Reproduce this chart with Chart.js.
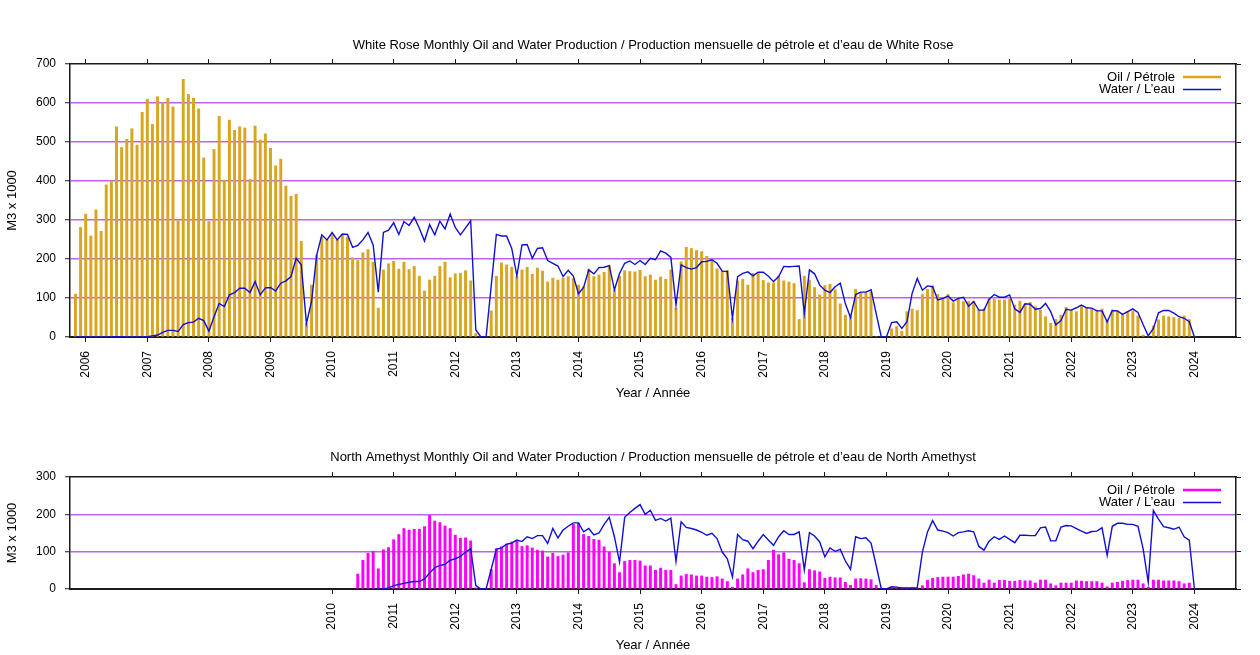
<!DOCTYPE html>
<html>
<head>
<meta charset="utf-8">
<script src="https://cdn.jsdelivr.net/npm/chart.js@4.4.1/dist/chart.umd.min.js"></script>
<style>
  html, body { margin: 0; padding: 0; background: #fff; }
  .wrap { position: absolute; left: 0; width: 1260px; }
  #topWrap { top: 0; height: 410px; }
  #bottomWrap { top: 410px; height: 245px; }
</style>
</head>
<body>
<div class="wrap" id="topWrap"><canvas id="whiteRose"></canvas></div>
<div class="wrap" id="bottomWrap"><canvas id="northAmethyst"></canvas></div>
<script>
// monthly values, M3 x 1000, one row per year
// White Rose: Nov 2005 .. Jan 2024
const wrStart = 2005 + 10 / 12;
const wrOil = [
  110, 281,
  315, 259, 326, 271, 390, 400, 539, 486, 507, 534, 492, 576,
  610, 545, 616, 601, 612, 590, 298, 661, 622, 612, 585, 459,
  296, 481, 566, 402, 556, 530, 539, 536, 404, 541, 505, 521,
  484, 439, 456, 387, 361, 366, 245, 35, 133, 210, 256, 249,
  262, 249, 262, 256, 203, 196, 216, 224, 192, 74, 172, 188,
  194, 174, 192, 173, 181, 156, 118, 146, 156, 181, 192, 152,
  162, 163, 170, 144, 9, 0, 0, 67, 156, 190, 185, 179,
  155, 172, 179, 161, 177, 169, 141, 151, 146, 151, 155, 150,
  133, 129, 174, 155, 159, 166, 183, 121, 156, 170, 168, 167,
  171, 155, 159, 146, 154, 148, 172, 74, 193, 230, 227, 222,
  219, 207, 198, 175, 169, 171, 48, 144, 148, 133, 163, 163,
  145, 139, 139, 156, 144, 141, 137, 45, 156, 146, 127, 108,
  132, 135, 121, 85, 56, 52, 122, 112, 114, 115, 0, 0,
  0, 21, 27, 15, 65, 72, 68, 109, 122, 131, 109, 97,
  109, 88, 97, 91, 91, 92, 69, 72, 97, 97, 95, 95,
  97, 82, 92, 84, 89, 78, 69, 52, 35, 45, 56, 76,
  69, 65, 78, 74, 72, 69, 72, 42, 69, 67, 58, 65,
  67, 54, 5, 0, 28, 44, 54, 52, 50, 48, 54, 45,
  0
];
const wrWater = [
  0, 0,
  0, 0, 0, 0, 0, 0, 1, 1, 0, 0, 0, 0,
  1, 3, 5, 12, 17, 17, 14, 32, 37, 38, 48, 42,
  15, 52, 86, 78, 108, 114, 125, 125, 114, 142, 108, 126,
  127, 118, 138, 144, 155, 202, 185, 35, 91, 210, 262, 249,
  268, 249, 264, 263, 230, 235, 249, 268, 236, 115, 268, 274,
  293, 263, 296, 286, 307, 279, 246, 288, 262, 297, 277, 315,
  281, 262, 280, 298, 18, 0, 0, 131, 263, 259, 259, 227,
  157, 236, 237, 202, 227, 229, 196, 189, 182, 155, 171, 156,
  111, 127, 172, 162, 178, 179, 183, 121, 163, 189, 195, 186,
  196, 186, 202, 198, 221, 215, 204, 82, 185, 178, 174, 178,
  193, 194, 198, 189, 169, 168, 48, 155, 163, 167, 157, 166,
  166, 156, 142, 155, 181, 180, 181, 182, 61, 172, 162, 133,
  120, 114, 129, 138, 85, 50, 109, 115, 115, 121, 60, 0,
  0, 37, 39, 22, 39, 112, 150, 120, 131, 129, 95, 99,
  105, 92, 99, 102, 79, 91, 69, 69, 97, 109, 102, 102,
  108, 72, 63, 85, 84, 71, 73, 86, 65, 31, 42, 71,
  69, 75, 82, 75, 74, 67, 67, 39, 68, 67, 58, 65,
  72, 63, 32, 3, 22, 62, 68, 68, 61, 52, 48, 39,
  0
];

// North Amethyst: Jun 2010 .. Jan 2024
const naStart = 2010 + 5 / 12;
const naOil = [
  40, 77, 96, 101, 54, 105, 111,
  132, 146, 162, 158, 160, 160, 167, 197, 182, 178, 169, 162,
  144, 136, 137, 129, 3, 0, 0, 52, 108, 113, 120, 126,
  129, 114, 116, 110, 104, 102, 86, 96, 87, 91, 97, 173,
  176, 146, 141, 133, 131, 113, 99, 68, 44, 74, 77, 77,
  75, 62, 62, 50, 56, 50, 50, 12, 35, 39, 38, 35,
  35, 32, 31, 33, 27, 20, 5, 27, 38, 54, 44, 50,
  52, 77, 104, 92, 97, 80, 77, 68, 17, 52, 49, 46,
  29, 32, 30, 30, 18, 10, 27, 28, 27, 25, 10, 0,
  0, 3, 4, 3, 3, 4, 3, 9, 23, 29, 31, 32,
  32, 32, 34, 38, 40, 36, 27, 16, 24, 16, 23, 23,
  21, 21, 23, 22, 22, 16, 24, 24, 14, 9, 16, 16,
  16, 22, 21, 20, 20, 20, 16, 6, 16, 18, 21, 23,
  24, 24, 14, 5, 24, 24, 22, 22, 22, 20, 14, 16,
  0
];
const naWater = [
  null, null, null, null, 0, 0, 3,
  9, 12, 15, 18, 20, 20, 27, 43, 57, 63, 66, 77,
  81, 87, 99, 108, 9, 0, 0, 53, 106, 110, 120, 123,
  131, 127, 140, 135, 143, 143, 122, 162, 137, 158, 168, 177,
  177, 153, 162, 145, 150, 173, 192, 140, 72, 192, 205, 216,
  226, 200, 211, 184, 189, 182, 190, 74, 180, 165, 162, 158,
  152, 144, 149, 135, 99, 81, 32, 146, 132, 128, 108, 128,
  146, 131, 117, 140, 156, 146, 146, 153, 51, 151, 142, 126,
  86, 110, 101, 106, 75, 53, 140, 135, 137, 123, 63, 0,
  0, 6, 5, 3, 3, 3, 3, 99, 153, 183, 158, 155,
  151, 142, 151, 153, 156, 153, 114, 104, 128, 140, 133, 142,
  133, 124, 144, 144, 143, 143, 164, 166, 129, 129, 166, 170,
  169, 162, 155, 149, 154, 155, 164, 90, 168, 176, 176, 173,
  173, 168, 108, 18, 210, 187, 167, 164, 160, 166, 140, 131,
  0
];

const wrYears = [2006, 2007, 2008, 2009, 2010, 2011, 2012, 2013, 2014, 2015,
  2016, 2017, 2018, 2019, 2020, 2021, 2022, 2023, 2024];
const naYears = [2010, 2011, 2012, 2013, 2014, 2015, 2016, 2017, 2018, 2019,
  2020, 2021, 2022, 2023, 2024];

const X_MIN = 2005.745;
const X_MAX = 2024.675;
const FAMILY = '"Liberation Sans", Arial, sans-serif';
const FONT = { family: FAMILY, size: 13, weight: 'normal' };
const TICK_FONT = { family: FAMILY, size: 12, weight: 'normal' };
const AXIS = '#1a1a1a';
const GRID = 'rgba(160, 32, 240, 0.7)';
const WATER = '#1010d0';

function toPoints(start, values) {
  return values.map((v, i) => ({ x: start + i / 12, y: v }));
}

// legend drawn inside the plot, text on the left of the sample line
const insideLegend = {
  id: 'insideLegend',
  afterDraw(chart, args, opts) {
    const { ctx, chartArea } = chart;
    ctx.save();
    ctx.font = '13px ' + FAMILY;
    ctx.textAlign = 'right';
    ctx.textBaseline = 'middle';
    opts.items.forEach((it, i) => {
      const y = chartArea.top + 13 + i * 12.5;
      ctx.fillStyle = '#000';
      ctx.fillText(it.text, chartArea.right - 61, y);
      ctx.strokeStyle = it.color;
      ctx.lineWidth = it.width;
      ctx.beginPath();
      ctx.moveTo(chartArea.right - 53, y);
      ctx.lineTo(chartArea.right - 15, y);
      ctx.stroke();
    });
    ctx.restore();
  }
};

function makeChart(id, cfg) {
  const hideEdge = (ctx) => (ctx.tick.value === 0 || ctx.tick.value === cfg.yMax) ? 'rgba(0,0,0,0)' : GRID;
  const yearTicks = (axis) => { axis.ticks = cfg.years.map(v => ({ value: v })); };
  return new Chart(document.getElementById(id), {
    type: 'bar',
    data: {
      datasets: [
        {
          type: 'line', label: 'Water / L’eau', data: toPoints(cfg.start, cfg.water),
          borderColor: WATER, borderWidth: 1.4, pointRadius: 0, tension: 0, order: 0
        },
        {
          type: 'bar', label: 'Oil / Pétrole', data: toPoints(cfg.start, cfg.oil),
          backgroundColor: cfg.oilColor, barThickness: 2.3, order: 1
        }
      ]
    },
    options: {
      responsive: true,
      maintainAspectRatio: false,
      animation: false,
      events: [],
      layout: { padding: 0 },
      plugins: {
        legend: { display: false },
        tooltip: { enabled: false },
        title: {
          display: true, text: cfg.title, color: '#000', font: FONT, fullSize: false,
          padding: { top: cfg.titleTop, bottom: 0 }
        },
        insideLegend: {
          items: [
            { text: 'Oil / Pétrole', color: cfg.oilColor, width: 2.5 },
            { text: 'Water / L’eau', color: WATER, width: 1.5 }
          ]
        }
      },
      scales: {
        x: {
          type: 'linear', position: 'bottom', min: X_MIN, max: X_MAX, offset: false, z: 1,
          afterBuildTicks: yearTicks,
          ticks: {
            autoSkip: false, minRotation: 90, maxRotation: 90, padding: 9,
            color: '#000', font: TICK_FONT, callback: v => String(v)
          },
          grid: { offset: false, drawOnChartArea: false, tickLength: 5, color: AXIS },
          border: { color: AXIS, width: 2 },
          title: { display: true, text: 'Year / Année', color: '#000', font: FONT, padding: { top: 4, bottom: cfg.xTitleBottom } },
          afterFit: s => { s.height = cfg.xHeight; }
        },
        xTop: {
          type: 'linear', position: 'top', min: X_MIN, max: X_MAX, offset: false, z: 1,
          afterBuildTicks: yearTicks,
          ticks: { display: false },
          grid: { offset: false, drawOnChartArea: false, tickLength: 5, color: AXIS },
          border: { color: AXIS, width: 1.5 },
          afterFit: s => { s.height = cfg.topHeight; }
        },
        y: {
          position: 'left', min: 0, max: cfg.yMax, z: 1,
          ticks: { stepSize: 100, padding: 9, color: '#000', font: TICK_FONT },
          grid: { color: hideEdge, lineWidth: 1.5, tickLength: 5, tickColor: AXIS, tickWidth: 1 },
          border: { color: AXIS, width: 1.5 },
          title: { display: true, text: 'M3 x 1000', color: '#000', font: FONT, padding: { top: 4.2, bottom: 0 } },
          afterFit: s => { s.width = 70; }
        },
        yRight: {
          position: 'right', min: 0, max: cfg.yMax, z: 1,
          ticks: { stepSize: 100, display: false },
          grid: { drawOnChartArea: false, tickLength: 5, color: AXIS },
          border: { color: AXIS, width: 1.5 },
          afterFit: s => { s.width = 24; }
        }
      }
    },
    plugins: [insideLegend]
  });
}

makeChart('whiteRose', {
  title: 'White Rose Monthly Oil and Water Production / Production mensuelle de pétrole et d’eau de White Rose',
  start: wrStart, oil: wrOil, water: wrWater, years: wrYears,
  oilColor: '#daa520', yMax: 700,
  titleTop: 37.2, topHeight: 11.2, xHeight: 73, xTitleBottom: 9.2
});

makeChart('northAmethyst', {
  title: 'North Amethyst Monthly Oil and Water Production / Production mensuelle de pétrole et d’eau de North Amethyst',
  start: naStart, oil: naOil, water: naWater, years: naYears,
  oilColor: '#ff00ff', yMax: 300,
  titleTop: 39.2, topHeight: 12.2, xHeight: 66, xTitleBottom: 2.2
});
</script>
</body>
</html>
